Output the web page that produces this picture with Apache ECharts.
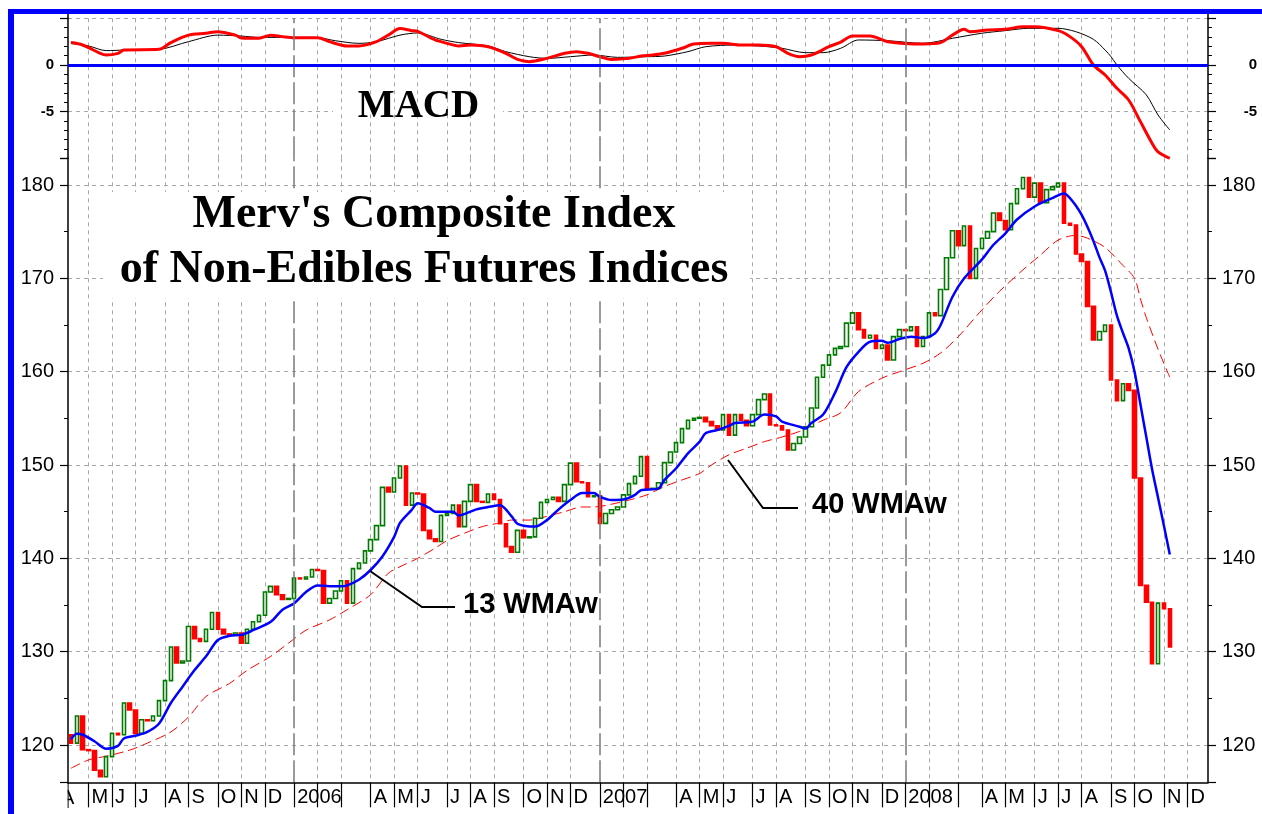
<!DOCTYPE html>
<html>
<head>
<meta charset="utf-8">
<title>Merv's Composite Index of Non-Edibles Futures Indices</title>
<script src="https://cdn.jsdelivr.net/npm/echarts@6/dist/echarts.min.js"></script>
<style>
  html, body { margin: 0; padding: 0; background: #fff; }
  #chart { width: 1262px; height: 814px; }
</style>
</head>
<body>
<div id="chart"></div>
<script>
// weekly bars, first bar = week ending Fri 15 Apr 2005
const firstWeek = [2005, 3, 15];
const weekCount = 194;
const firstOpen = 121.1;
// weekly closes (each bar opens at the previous close)
const closes = [
  120.2, 123.1, 119.5, 119.4, 117.3, 116.6, 118.75, 121.25, 121.1, 124.5,
  123.75, 121.25, 122.7, 122.6, 123.1, 124.75, 126.9, 130.5, 128.8, 129.0,
  132.7, 131.4, 131.1, 132.4, 134.2, 132.4, 131.9, 131.8, 132.0, 130.9,
  132.4, 133.2, 133.9, 136.4, 137.0, 136.1, 135.6, 135.7, 137.9, 137.8,
  138.0, 138.8, 138.7, 135.2, 135.7, 136.5, 137.6, 135.2, 138.9, 139.5,
  140.8, 142.0, 143.5, 147.6, 147.1, 148.6, 149.9, 145.7, 147.0, 146.9,
  143.0, 142.1, 141.8, 144.6, 144.8, 145.7, 143.4, 146.1, 147.9, 146.1,
  146.0, 146.9, 146.3, 143.7, 141.25, 140.65, 143.0, 142.2, 142.3, 144.3,
  146.0, 146.3, 146.55, 146.1, 147.9, 150.2, 148.2, 148.1, 146.6, 146.7,
  143.75, 144.8, 145.2, 145.5, 146.8, 148.0, 148.8, 150.9, 147.4, 147.5,
  148.1, 150.25, 151.4, 152.4, 153.9, 154.8, 155.0, 155.1, 154.65, 154.2,
  153.75, 155.4, 153.2, 155.4, 154.8, 154.2, 155.4, 157.0, 157.6, 154.3,
  154.2, 153.75, 151.6, 152.3, 153.0, 154.1, 156.1, 159.4, 160.7, 161.8,
  162.5, 162.7, 165.2, 166.3, 164.5, 163.6, 163.9, 162.5, 162.85, 161.25,
  163.75, 164.5, 164.4, 164.8, 162.7, 163.75, 166.3, 166.0, 168.8, 172.2,
  175.1, 173.5, 175.6, 170.0, 173.2, 174.3, 175.0, 177.0, 176.2, 175.2,
  178.0, 179.6, 180.8, 178.7, 180.2, 178.1, 179.5, 179.8, 180.2, 175.9,
  175.7, 172.6, 171.8, 167.0, 163.4, 164.3, 165.0, 159.1, 156.9, 158.7,
  158.0, 148.6, 137.1, 135.3, 128.7, 135.2, 134.6, 130.5
];
// [week index, value]
const wma13 = [
  [0,120.6],[1,121.2],[2,121.1],[4,120.4],[6,119.6],[8,119.9],[9,120.7],[11,121.0],[13,121.4],[15,122.3],
  [17,124.5],[19,126.25],[21,128.0],[23,129.5],[25,131.25],[27,131.7],[29,131.8],[31,132.3],[34,133.2],[36,134.5],
  [38,135.2],[40,136.4],[42,137.1],[44,137.0],[46,137.0],[47,137.1],[49,137.7],[51,138.75],[53,140.2],[55,142.3],
  [56,143.8],[58,145.2],[59,145.9],[61,145.4],[62,145.0],[65,145.0],[66,144.6],[69,145.25],[71,145.5],[73,145.7],
  [75,144.5],[76,143.7],[79,143.4],[81,144.1],[83,145.25],[85,146.25],[87,147.0],[89,147.0],[90,146.6],[92,146.25],
  [94,146.3],[96,146.8],[97,147.3],[100,147.5],[101,148.4],[103,149.65],[105,151.25],[107,152.5],[108,153.4],[110,153.75],
  [112,154.2],[113,154.5],[116,154.65],[118,155.4],[120,155.2],[121,154.65],[124,154.1],[125,153.9],[126,154.5],[128,155.4],
  [130,157.7],[132,160.5],[134,162.1],[136,163.2],[138,163.3],[139,163.1],[141,163.5],[143,163.75],[145,163.6],[147,164.1],
  [148,165.0],[150,168.0],[152,170.0],[155,172.0],[157,173.6],[159,174.8],[161,176.3],[164,177.7],[167,178.6],[169,179.1],
  [170,178.6],[171,177.8],[172,176.8],[173,175.5],[174,174.0],[175,172.3],[176,170.8],[177,168.5],[178,166.0],[179,164.2],
  [180,162.5],[181,160.0],[182,156.5],[183,153.0],[184,149.5],[185,146.5],[186,143.5],[187,140.4]
];
const wma40 = [
  [0,117.5],[3,118.4],[6,118.8],[10,119.45],[13,120.2],[17,121.4],[20,123.0],[23,125.2],[27,126.6],[30,128.0],
  [34,129.5],[37,130.9],[40,132.3],[44,133.4],[47,134.5],[51,136.1],[54,138.4],[56,139.1],[59,140.0],[62,141.1],
  [64,141.9],[67,142.7],[70,143.4],[73,143.8],[75,144.1],[78,144.1],[81,144.5],[84,145.0],[87,145.5],[89,145.5],
  [92,145.8],[95,146.25],[98,146.8],[101,147.7],[104,148.4],[107,149.1],[109,150.0],[112,151.1],[115,151.8],[118,152.5],
  [121,153.0],[124,153.6],[126,154.2],[128,154.8],[131,155.6],[134,157.85],[138,159.3],[141,160.0],[145,160.9],[148,162.0],
  [151,163.75],[155,166.6],[158,168.6],[162,170.9],[165,172.5],[168,174.1],[171,174.6],[173,174.3],[176,173.3],[179,171.4],
  [181,170.0],[182,167.8],[183,165.8],[185,162.4],[187,159.4]
];
const macd = [
  [0,2.4],[2,2.14],[5,1.25],[6,1.07],[8,1.25],[9,1.6],[15,1.68],[17,2.4],[20,3.2],[23,3.4],
  [25,3.57],[28,3.2],[29,2.9],[32,2.86],[34,3.2],[36,3.04],[38,2.93],[42,2.93],[44,2.5],[47,2.04],
  [49,2.04],[52,2.5],[54,3.2],[56,3.9],[58,3.68],[59,3.6],[62,2.68],[64,2.32],[66,2.04],[68,2.14],
  [71,1.96],[74,1.25],[76,0.6],[78,0.36],[81,0.71],[84,1.25],[86,1.43],[88,1.25],[90,0.89],[92,0.6],
  [95,0.71],[97,0.96],[99,1.07],[101,1.25],[104,1.79],[106,2.25],[109,2.32],[111,2.32],[114,2.14],[117,2.14],
  [120,1.96],[122,1.25],[124,0.89],[126,1.07],[129,1.96],[131,2.45],[133,3.1],[136,3.1],[139,2.5],[145,2.25],
  [148,2.4],[150,3.2],[152,3.82],[153,3.57],[156,3.75],[159,3.82],[162,4.1],[164,4.1],[168,3.68],[170,3.04],
  [172,1.96],[174,0],[176,-1.07],[178,-2.5],[180,-3.75],[182,-6.07],[184,-8.4],[185,-9.3],[187,-10.0]
];
const signal = [
  [0,2.3],[3,2.04],[6,1.54],[9,1.6],[15,1.68],[20,2.5],[25,3.2],[29,3.1],[32,2.96],[38,2.96],
  [42,2.93],[45,2.6],[49,2.32],[52,2.5],[56,3.2],[59,3.43],[63,2.75],[66,2.4],[71,2.04],[74,1.43],
  [78,0.89],[81,0.71],[85,0.89],[89,1.07],[93,0.82],[98,0.89],[101,0.96],[105,1.43],[108,1.96],[113,2.14],
  [117,2.04],[121,1.79],[125,1.32],[128,1.32],[131,1.79],[134,2.68],[139,2.6],[145,2.32],[150,2.86],[155,3.4],
  [159,3.68],[163,3.93],[168,3.93],[171,3.57],[174,2.75],[176,1.6],[177,0.89],[178,0],[180,-1.43],[183,-3.2],
  [185,-5.36],[187,-6.96]
];
const monthLetters = ['J', 'F', 'M', 'A', 'M', 'J', 'J', 'A', 'S', 'O', 'N', 'D'];

const weeks = [];
for (let i = 0; i < weekCount; i++) {
  const d = new Date(Date.UTC(firstWeek[0], firstWeek[1], firstWeek[2] + 7 * i));
  weeks.push(d.toISOString().slice(0, 10));
}
const isMonthStart = idx => +weeks[idx].slice(8, 10) <= 7;
const isJan = idx => weeks[idx].slice(5, 7) === '01';
const monthLabel = (val) => {
  const m = +val.slice(5, 7) - 1;
  if (m === 0) return val.slice(0, 4);
  if (m === 1 || m === 2) return '';
  return monthLetters[m];
};
const yearWeeks = weeks.filter((w, i) => isMonthStart(i) && isJan(i));

const candles = closes.map((c, i) => {
  const o = i === 0 ? firstOpen : closes[i - 1];
  return [o, c, Math.min(o, c), Math.max(o, c)];
});

const SANS = "'Liberation Sans', Arial, sans-serif";
const SERIF = "'Liberation Serif', 'Times New Roman', serif";
const gridDash = { color: '#a8a8a8', width: 1, type: [4, 4] };
const yearLines = yearWeeks.map(w => ({
  xAxis: w,
  lineStyle: { color: '#7a7a7a', width: 1.5, type: [22, 5] }
}));

function monthXAxis(gridIndex, showAxis) {
  return {
    type: 'category', gridIndex, data: weeks, boundaryGap: true,
    axisLine: { show: showAxis, lineStyle: { color: '#000', width: 1.5 } },
    axisTick: {
      show: showAxis, alignWithLabel: true, interval: isMonthStart, length: 25,
      lineStyle: { color: '#000', width: 1.2 }
    },
    axisLabel: {
      show: showAxis, interval: isMonthStart, formatter: monthLabel, align: 'left',
      margin: 5, padding: [0, 0, 0, 3], fontSize: 20, color: '#000', fontFamily: SANS
    },
    splitLine: {
      show: true, alignWithLabel: true,
      interval: idx => isMonthStart(idx) && !isJan(idx),
      lineStyle: gridDash
    }
  };
}

function valueAxis(gridIndex, position, lim, extra) {
  return Object.assign({
    type: 'value', gridIndex, position, scale: true,
    axisLine: { show: true, lineStyle: { color: '#000', width: 1.5 } },
    axisTick: { show: true, length: 8, lineStyle: { color: '#000', width: 1.2 } },
    splitLine: { show: false }
  }, lim, extra);
}

const macdLim = { min: -10, max: 5, interval: 5 };
const priceLim = { min: 116, max: 182.857, splitNumber: 7 };
const macdLabel = v => (v === 0 || v === -5) ? String(v) : '';
const priceLabel = v => (Math.abs(v % 10) < 1e-6) ? String(v) : '';

const chart = echarts.init(document.getElementById('chart'));
chart.setOption({
  animation: false,
  backgroundColor: '#ffffff',
  grid: [
    { left: 68, width: 1140, top: 18.33, height: 140 },
    { left: 68, width: 1140, top: 158.33, height: 624 }
  ],
  xAxis: [monthXAxis(0, false), monthXAxis(1, true)],
  yAxis: [
    valueAxis(0, 'left', macdLim, {
      minorTick: { show: true, splitNumber: 5, length: 4, lineStyle: { color: '#000' } },
      axisLabel: { formatter: macdLabel, fontWeight: 'bold', fontSize: 15, color: '#000', margin: 14, fontFamily: SANS },
      splitLine: { show: true, showMinLine: false, lineStyle: gridDash }
    }),
    valueAxis(0, 'right', macdLim, {
      minorTick: { show: true, splitNumber: 5, length: 4, lineStyle: { color: '#000' } },
      axisLabel: { formatter: macdLabel, fontWeight: 'bold', fontSize: 15, color: '#000', margin: 49, align: 'right', fontFamily: SANS }
    }),
    valueAxis(1, 'left', priceLim, {
      minorTick: { show: true, splitNumber: 2, length: 4, lineStyle: { color: '#000' } },
      axisLabel: { formatter: priceLabel, fontSize: 20, color: '#000', margin: 14, fontFamily: SANS },
      splitLine: { show: true, showMinLine: false, showMaxLine: false, lineStyle: gridDash }
    }),
    valueAxis(1, 'right', priceLim, {
      minorTick: { show: true, splitNumber: 2, length: 4, lineStyle: { color: '#000' } },
      axisLabel: { formatter: priceLabel, fontSize: 20, color: '#000', margin: 14, fontFamily: SANS }
    })
  ],
  series: [
    {
      name: 'Signal', type: 'line', xAxisIndex: 0, yAxisIndex: 0, data: signal,
      symbol: 'none', smooth: 0.3, z: 2,
      lineStyle: { color: '#000', width: 1 },
      markLine: {
        silent: true, symbol: ['none', 'none'], label: { show: false },
        data: yearLines.concat([{ yAxis: 0, lineStyle: { color: '#0000ff', width: 3, type: 'solid' } }])
      }
    },
    {
      name: 'MACD', type: 'line', xAxisIndex: 0, yAxisIndex: 0, data: macd,
      symbol: 'none', smooth: 0.3, z: 3,
      lineStyle: { color: '#ff0000', width: 3 }
    },
    {
      name: '40 WMAw', type: 'line', xAxisIndex: 1, yAxisIndex: 2, data: wma40,
      symbol: 'none', smooth: 0.3, z: 2,
      lineStyle: { color: '#ff0000', width: 1, type: [10, 5] },
      markLine: {
        silent: true, symbol: ['none', 'none'], label: { show: false },
        data: yearLines
      }
    },
    {
      name: 'Index', type: 'candlestick', xAxisIndex: 1, yAxisIndex: 2, data: candles,
      barWidth: 4, z: 3,
      itemStyle: { color: '#ffffff', color0: '#ff0000', borderColor: '#007a00', borderColor0: '#ff0000', borderWidth: 1.6 }
    },
    {
      name: '13 WMAw', type: 'line', xAxisIndex: 1, yAxisIndex: 2, data: wma13,
      symbol: 'none', smooth: 0.3, z: 4,
      lineStyle: { color: '#0000ff', width: 2.5 }
    }
  ],
  graphic: [
    // frame
    { type: 'rect', z: 100, shape: { x: 8, y: 9, width: 6, height: 805 }, style: { fill: '#0000ff' } },
    { type: 'rect', z: 100, shape: { x: 8, y: 9, width: 1254, height: 5 }, style: { fill: '#0000ff' } },
    // axis line ends
    { type: 'line', z: 100, shape: { x1: 68, y1: 14, x2: 68, y2: 18.5 }, style: { stroke: '#000', lineWidth: 1.5 } },
    { type: 'line', z: 100, shape: { x1: 1208, y1: 14, x2: 1208, y2: 18.5 }, style: { stroke: '#000', lineWidth: 1.5 } },
    { type: 'line', z: 100, shape: { x1: 68, y1: 782, x2: 68, y2: 808 }, style: { stroke: '#000', lineWidth: 1.2 } },
    // clipped first month letter
    { type: 'text', z: 100, x: 61, y: 788, style: { text: 'A', fill: '#000', font: '20px ' + SANS, verticalAlign: 'top' } },
    { type: 'rect', z: 101, shape: { x: 15, y: 784, width: 52.4, height: 30 }, style: { fill: '#ffffff' } },
    // titles
    { type: 'rect', z: 100, shape: { x: 103, y: 192, width: 647, height: 106 }, style: { fill: '#ffffff' } },
    { type: 'text', z: 101, x: 434, y: 215.5, style: { text: "Merv's Composite Index", fill: '#000', font: 'bold 46px ' + SERIF, align: 'center', verticalAlign: 'middle' } },
    { type: 'text', z: 101, x: 424, y: 270.5, style: { text: 'of Non-Edibles Futures Indices', fill: '#000', font: 'bold 46px ' + SERIF, align: 'center', verticalAlign: 'middle' } },
    { type: 'rect', z: 100, shape: { x: 333, y: 109.5, width: 170, height: 4 }, style: { fill: '#ffffff' } },
    { type: 'text', z: 101, x: 418.5, y: 107, style: { text: 'MACD', fill: '#000', font: 'bold 39px ' + SERIF, align: 'center', verticalAlign: 'middle' } },
    // moving average callouts
    { type: 'polyline', z: 100, shape: { points: [[370, 571], [422, 607], [455, 607]] }, style: { stroke: '#000', lineWidth: 2, fill: null } },
    { type: 'text', z: 101, x: 463, y: 605, style: { text: '13 WMAw', fill: '#000', font: 'bold 29px ' + SANS, verticalAlign: 'middle' } },
    { type: 'polyline', z: 100, shape: { points: [[728, 460], [763, 508], [798, 508]] }, style: { stroke: '#000', lineWidth: 2, fill: null } },
    { type: 'text', z: 101, x: 812, y: 505, style: { text: '40 WMAw', fill: '#000', font: 'bold 29px ' + SANS, verticalAlign: 'middle' } }
  ]
});
window.addEventListener('resize', function () { chart.resize(); });
</script>
</body>
</html>
